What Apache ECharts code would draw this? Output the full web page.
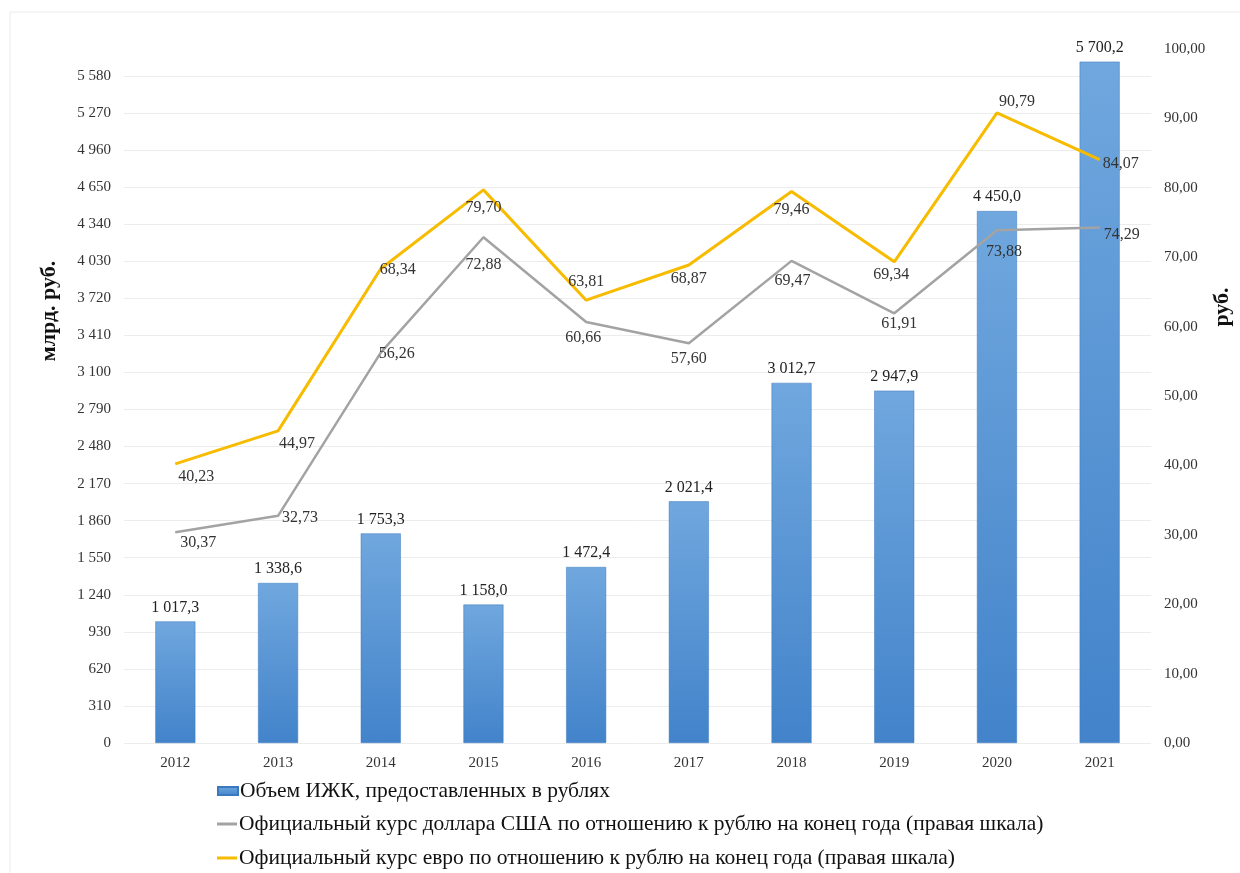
<!DOCTYPE html>
<html>
<head>
<meta charset="utf-8">
<script src="https://cdn.jsdelivr.net/npm/echarts@6/dist/echarts.min.js"></script>
<style>html,body{margin:0;padding:0;background:#fff;}#c{width:1240px;height:873px;}</style>
</head>
<body>
<div id="c"></div>
<script>
const years = ['2012','2013','2014','2015','2016','2017','2018','2019','2020','2021'];
const ijkVolume = [1017.3, 1338.6, 1753.3, 1158.0, 1472.4, 2021.4, 3012.7, 2947.9, 4450.0, 5700.2];
const usdRate = [30.37, 32.73, 56.26, 72.88, 60.66, 57.60, 69.47, 61.91, 73.88, 74.29];
const eurRate = [40.23, 44.97, 68.34, 79.70, 63.81, 68.87, 79.46, 69.34, 90.79, 84.07];
const seriesNames = [
  'Объем ИЖК, предоставленных в рублях',
  'Официальный курс доллара США по отношению к рублю на конец года (правая шкала)',
  'Официальный курс евро по отношению к рублю на конец года (правая шкала)'
];

// label placement offsets (layout only)
const eurOffsets = [[21,13],[19,13],[17,1],[0,18],[0,-18],[0,14],[0,18],[-3,13],[20,-11],[21,4]];
const usdOffsets = [[23,11],[22,2],[16,1],[0,28],[-3,16],[0,16],[1,20],[5,10],[7,22],[22,7]];

const FONT = "'Liberation Serif','Times New Roman',serif";
function fmtThousands(v, dec) {
  const s = v.toFixed(dec).split('.');
  const int = s[0].replace(/\B(?=(\d{3})+(?!\d))/g, ' ');
  return s.length > 1 ? int + ',' + s[1] : int;
}

const chart = echarts.init(document.getElementById('c'), null, {renderer: 'canvas'});
const lineData = (vals, offs) => vals.map((v, i) => ({value: v, label: {offset: offs[i]}}));
const legendText = {fontFamily: FONT, fontSize: 21.5, color: '#111', padding: [0,0,0,-3]};

const option = {
  backgroundColor: '#ffffff',
  animation: false,
  grid: [
    {left: 124, right: 89, top: 76, bottom: 130},
    {left: 124, right: 89, top: 49, bottom: 130}
  ],
  graphic: [
    {type: 'rect', shape: {x: 10, y: 12, width: 1240, height: 880}, style: {fill: 'none', stroke: '#ebebeb', lineWidth: 1}, silent: true},
    {type: 'text', x: 49, y: 311, rotation: Math.PI / 2,
      style: {text: 'млрд. руб.', font: 'bold 22px ' + FONT, fill: '#111', align: 'center', verticalAlign: 'middle'}},
    {type: 'text', x: 1222, y: 307, rotation: Math.PI / 2,
      style: {text: 'руб.', font: 'bold 22px ' + FONT, fill: '#111', align: 'center', verticalAlign: 'middle'}}
  ],
  legend: [
    {data: [{name: seriesNames[0], icon: 'rect'}], orient: 'vertical', left: 212, top: 775,
      itemWidth: 20, itemHeight: 8, itemGap: 0, textStyle: legendText},
    {data: [{name: seriesNames[1], icon: 'rect'}], orient: 'vertical', left: 212, top: 808,
      itemWidth: 20, itemHeight: 3, itemGap: 0, textStyle: legendText},
    {data: [{name: seriesNames[2], icon: 'rect'}], orient: 'vertical', left: 212, top: 842,
      itemWidth: 20, itemHeight: 3, itemGap: 0, textStyle: legendText}
  ],
  xAxis: [
    {type: 'category', data: years, gridIndex: 0,
      axisLine: {show: false}, axisTick: {show: false},
      axisLabel: {fontFamily: FONT, fontSize: 15, color: '#333', margin: 13}},
    {type: 'category', data: years, gridIndex: 1, show: false}
  ],
  yAxis: [
    {type: 'value', gridIndex: 0, min: 0, max: 5580, interval: 310,
      axisLine: {show: false}, axisTick: {show: false},
      splitLine: {show: true, lineStyle: {color: '#ececec', width: 1}},
      axisLabel: {fontFamily: FONT, fontSize: 15, color: '#333', margin: 13,
        formatter: v => fmtThousands(v, 0)}},
    {type: 'value', gridIndex: 1, position: 'right', min: 0, max: 100, interval: 10,
      axisLine: {show: false}, axisTick: {show: false}, splitLine: {show: false},
      axisLabel: {fontFamily: FONT, fontSize: 15, color: '#333', margin: 13,
        formatter: v => v.toFixed(2).replace('.', ',')}}
  ],
  series: [
    {name: seriesNames[0], type: 'bar', data: ijkVolume, barWidth: 40, xAxisIndex: 0, yAxisIndex: 0,
      clip: false,
      itemStyle: {color: new echarts.graphic.LinearGradient(0, 0, 0, 1, [
        {offset: 0, color: '#70a7de'}, {offset: 1, color: '#4283ca'}]),
        borderColor: '#3a78bf', borderWidth: 0.5},
      label: {show: true, position: 'top', distance: 6, fontFamily: FONT, fontSize: 16, color: '#222',
        formatter: p => fmtThousands(p.value, 1)},
      z: 2},
    {name: seriesNames[1], type: 'line', xAxisIndex: 1, yAxisIndex: 1, data: lineData(usdRate, usdOffsets),
      symbol: 'circle', symbolSize: 1, showSymbol: true,
      lineStyle: {color: '#a3a3a3', width: 2.5}, itemStyle: {color: '#a3a3a3'},
      label: {show: true, position: 'inside', fontFamily: FONT, fontSize: 16, color: '#333',
        formatter: p => p.value.toFixed(2).replace('.', ',')},
      z: 3},
    {name: seriesNames[2], type: 'line', xAxisIndex: 1, yAxisIndex: 1, data: lineData(eurRate, eurOffsets),
      symbol: 'circle', symbolSize: 1, showSymbol: true,
      lineStyle: {color: '#f7bb00', width: 3}, itemStyle: {color: '#f7bb00'},
      label: {show: true, position: 'inside', fontFamily: FONT, fontSize: 16, color: '#333',
        formatter: p => p.value.toFixed(2).replace('.', ',')},
      z: 4}
  ]
};
chart.setOption(option);
</script>
</body>
</html>
